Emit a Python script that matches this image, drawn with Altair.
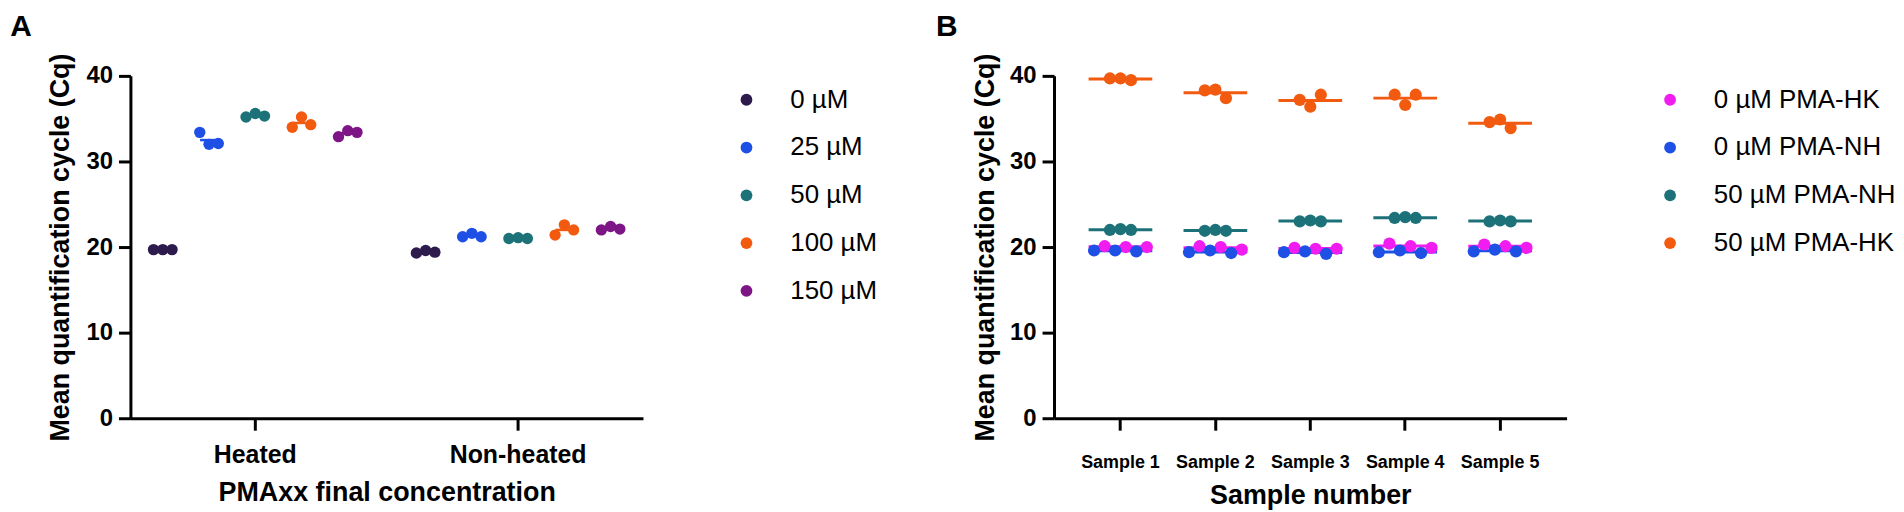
import altair as alt
import pandas as pd

# ---------------- Panel A data ----------------
groups_a = ["Heated", "Non-heated"]
conc_a = ["0 µM", "25 µM", "50 µM", "100 µM", "150 µM"]
colors_a = ["#2d1b4e", "#1f50e6", "#1c7278", "#f25a0f", "#7e1586"]
heated_cq = [
    [19.7, 19.7, 19.7],
    [33.4, 32.0, 32.1],
    [35.2, 35.6, 35.3],
    [34.0, 35.2, 34.3],
    [32.9, 33.6, 33.4],
]
nonheated_cq = [
    [19.3, 19.6, 19.4],
    [21.2, 21.6, 21.2],
    [21.0, 21.1, 21.0],
    [21.4, 22.6, 22.0],
    [22.0, 22.4, 22.1],
]

# ---------------- Panel B data ----------------
samples_b = ["Sample 1", "Sample 2", "Sample 3", "Sample 4", "Sample 5"]
series_b = ["0 µM PMA-HK", "0 µM PMA-NH", "50 µM PMA-NH", "50 µM PMA-HK"]
colors_b = ["#f01cf0", "#1f50e6", "#1c7278", "#f25a0f"]
hk0_cq = [[20.1, 20.0, 20.0], [20.1, 20.0, 19.7], [19.9, 19.8, 19.8], [20.4, 20.1, 19.9], [20.3, 20.1, 19.9]]
nh0_cq = [[19.6, 19.6, 19.5], [19.4, 19.6, 19.3], [19.4, 19.5, 19.2], [19.4, 19.6, 19.3], [19.5, 19.7, 19.5]]
nh50_cq = [[22.0, 22.1, 22.0], [21.9, 22.0, 21.9], [23.0, 23.1, 23.0], [23.4, 23.5, 23.4], [23.0, 23.1, 23.0]]
hk50_cq = [[39.7, 39.7, 39.5], [38.3, 38.4, 37.4], [37.2, 36.4, 37.8], [37.8, 36.6, 37.8], [34.6, 34.9, 33.9]]

FONT = "Liberation Sans"
W, H = 515, 344

# ---------- build A table ----------
rows_a = []
for g, block in zip(groups_a, [heated_cq, nonheated_cq]):
    for c, trip in zip(conc_a, block):
        for r, v in enumerate(trip):
            rows_a.append({"group": g, "conc": c, "slot": f"{c}|{r}", "center": f"{c}|1", "cq": v})
df_a = pd.DataFrame(rows_a)
slots_a = []
for c in conc_a:
    slots_a += [f"{c}|pre", f"{c}|0", f"{c}|1", f"{c}|2", f"{c}|post"]

# ---------- build B table ----------
slot_keys_b = {
    "0 µM PMA-NH": ["b1", "b2", "b3"],
    "0 µM PMA-HK": ["m1", "m2", "m3"],
    "50 µM PMA-NH": ["t1", "t2", "t3"],
    "50 µM PMA-HK": ["t1", "t2", "t3"],
}
slots_b = (["p1", "p2", "p3", "p4"]
           + ["b1", "g1", "m1", "t1", "b2", "t2", "m2", "t3", "b3", "g2", "m3"]
           + ["q1", "q2", "q3", "q4"])
rows_b = []
for s, block in zip(series_b, [hk0_cq, nh0_cq, nh50_cq, hk50_cq]):
    for smp, trip in zip(samples_b, block):
        for r, v in enumerate(trip):
            rows_b.append({"series": s, "sample": smp, "slot": slot_keys_b[s][r], "cq": v})
df_b = pd.DataFrame(rows_b)


def y_axis(label_size, title_size, title_pad):
    return alt.Axis(values=[0, 10, 20, 30, 40], grid=False, domainColor="black", domainWidth=3,
                    tickColor="black", tickWidth=3, tickSize=12, labelFont=FONT, labelFontWeight="bold",
                    labelFontSize=label_size, labelColor="black", labelPadding=6, titleFont=FONT,
                    titleFontWeight="bold", titleFontSize=title_size, titleColor="black",
                    titlePadding=title_pad)


def x_axis(label_size, label_pad, title_size, title_pad):
    return alt.Axis(labelAngle=0, grid=False, domainColor="black", domainWidth=3, tickColor="black",
                    tickWidth=3, tickSize=12, labelFont=FONT, labelFontWeight="bold",
                    labelFontSize=label_size, labelColor="black", labelPadding=label_pad, titleFont=FONT,
                    titleFontWeight="bold", titleFontSize=title_size, titleColor="black",
                    titlePadding=title_pad)


def legend():
    return alt.Legend(title=None, orient="none", legendX=606, legendY=11, labelFont=FONT,
                      labelFontSize=26, labelColor="black", labelLimit=0, symbolType="circle",
                      symbolSize=140, symbolStrokeWidth=0, symbolOpacity=1, rowPadding=22,
                      labelOffset=31, padding=0)


yscale = alt.Scale(domain=[0, 40], nice=False)
YTITLE = "Mean quantification cycle (Cq)"

# ---------- Panel A ----------
xa = alt.X("group:N", scale=alt.Scale(domain=groups_a, paddingInner=0.05, paddingOuter=0),
           axis=x_axis(25, 12, 27, 13), title="PMAxx final concentration")
ax_ya = y_axis(24, 27, 12)
ca = alt.Color("conc:N", scale=alt.Scale(domain=conc_a, range=colors_a), legend=legend())

lines_a = alt.Chart(df_a).mark_tick(size=18, thickness=2.5, opacity=1).encode(
    x=xa,
    xOffset=alt.XOffset("center:N", scale=alt.Scale(domain=slots_a, paddingInner=0, paddingOuter=1)),
    y=alt.Y("mean(cq):Q", scale=yscale, axis=ax_ya, title=YTITLE),
    color=ca,
)
points_a = alt.Chart(df_a).mark_circle(size=130, opacity=1).encode(
    x=xa,
    xOffset=alt.XOffset("slot:N", scale=alt.Scale(domain=slots_a, paddingInner=0, paddingOuter=1)),
    y=alt.Y("cq:Q", scale=yscale, axis=ax_ya, title=YTITLE),
    color=ca,
)
panel_a = alt.layer(lines_a, points_a).properties(
    width=W, height=H,
    title=alt.TitleParams("A", anchor="start", frame="bounds", fontSize=30, font=FONT,
                          fontWeight="bold", color="black", offset=11, dx=-36),
)

# ---------- Panel B ----------
xb = alt.X("sample:N", scale=alt.Scale(domain=samples_b, paddingInner=0, paddingOuter=0.2),
           axis=x_axis(18, 23, 27, 12), title="Sample number")
ax_yb = y_axis(24, 27, 10)
cb = alt.Color("series:N", scale=alt.Scale(domain=series_b, range=colors_b), legend=legend())

lines_b = alt.Chart(df_b).mark_tick(size=64, thickness=3, opacity=1).encode(
    x=xb,
    y=alt.Y("mean(cq):Q", scale=yscale, axis=ax_yb, title=YTITLE),
    color=cb,
)
points_b = alt.Chart(df_b).mark_circle(size=150, opacity=1).encode(
    x=xb,
    xOffset=alt.XOffset("slot:N", scale=alt.Scale(domain=slots_b, paddingInner=0, paddingOuter=0)),
    y=alt.Y("cq:Q", scale=yscale, axis=ax_yb, title=YTITLE),
    color=cb,
)
panel_b = alt.layer(lines_b, points_b).properties(
    width=W, height=H,
    title=alt.TitleParams("B", anchor="start", frame="bounds", fontSize=30, font=FONT,
                          fontWeight="bold", color="black", offset=11, dx=-36),
)

chart = alt.hconcat(panel_a, panel_b, spacing=413, bounds="flush").resolve_scale(
    color="independent", x="independent", y="independent", xOffset="independent"
).resolve_legend(color="independent").properties(
    padding={"left": 2, "top": 2, "right": 0, "bottom": 0}
).configure_view(stroke=None)

chart.save("out.html", embed_options={"renderer": "svg", "actions": False})
